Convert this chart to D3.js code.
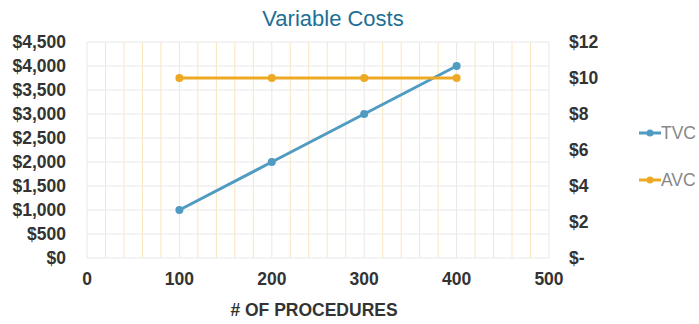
<!DOCTYPE html>
<html><head><meta charset="utf-8">
<script src="https://cdn.jsdelivr.net/npm/d3@7"></script>
<style>body{margin:0;background:#fff}svg{display:block;font-family:"Liberation Sans",Arial,sans-serif}</style>
</head><body>
<svg id="c" width="699" height="324"></svg>
<script>
const procedures = [100, 200, 300, 400];
const tvc = [1000, 2000, 3000, 4000];
const avc = [10, 10, 10, 10];
const xTicks = [0, 100, 200, 300, 400, 500];
const yLeftTicks = [0, 500, 1000, 1500, 2000, 2500, 3000, 3500, 4000, 4500];
const yRightTicks = [0, 2, 4, 6, 8, 10, 12];
const seriesNames = ["TVC", "AVC"];
const colors = ["#4f9bc2", "#eea924"];

const svg = d3.select("#c");
const L = 87, R = 549, T = 42, B = 258;
const FS = 17.5;
const x = d3.scaleLinear().domain([0, 500]).range([L, R]);
const yl = d3.scaleLinear().domain([0, 4500]).range([B, T]);
const yr = d3.scaleLinear().domain([0, 12]).range([B, T]);

// minor vertical grid
const minor = d3.range(0, 501, 20).filter(v => v % 100 !== 0);
svg.append("g").selectAll("line").data(minor).join("line")
  .attr("x1", d => x(d)).attr("x2", d => x(d)).attr("y1", T).attr("y2", B)
  .attr("stroke", "#fbe6bd").attr("stroke-width", 1);
// major horizontal grid
svg.append("g").selectAll("line").data(yLeftTicks).join("line")
  .attr("x1", L).attr("x2", R).attr("y1", d => yl(d)).attr("y2", d => yl(d))
  .attr("stroke", "#e8e8e8").attr("stroke-width", 1);
// major vertical grid
svg.append("g").selectAll("line").data(xTicks).join("line")
  .attr("x1", d => x(d)).attr("x2", d => x(d)).attr("y1", T).attr("y2", B)
  .attr("stroke", "#e8e8e8").attr("stroke-width", 1);

// axes labels
const fmtL = d3.format("$,");
svg.append("g").selectAll("text").data(yLeftTicks).join("text")
  .attr("x", 66).attr("y", d => yl(d)).attr("dy", "0.35em").attr("text-anchor", "end")
  .attr("font-size", FS).attr("font-weight", "bold").attr("fill", "#333")
  .text(d => fmtL(d));
svg.append("g").selectAll("text").data(yRightTicks).join("text")
  .attr("x", 569).attr("y", d => yr(d)).attr("dy", "0.35em").attr("text-anchor", "start")
  .attr("font-size", FS).attr("font-weight", "bold").attr("fill", "#333")
  .text(d => d === 0 ? "$-" : "$" + d);
svg.append("g").selectAll("text").data(xTicks).join("text")
  .attr("x", d => x(d)).attr("y", 279).attr("dy", "0.35em").attr("text-anchor", "middle")
  .attr("font-size", FS).attr("font-weight", "bold").attr("fill", "#333")
  .text(d => d);
svg.append("text").attr("x", 314).attr("y", 310).attr("dy", "0.35em").attr("text-anchor", "middle")
  .attr("font-size", FS).attr("font-weight", "bold").attr("fill", "#333").text("# OF PROCEDURES");
svg.append("text").attr("x", 333).attr("y", 18).attr("dy", "0.35em").attr("text-anchor", "middle")
  .attr("font-size", 22).attr("fill", "#1e6f94").text("Variable Costs");

// series
const data = [
  procedures.map((p, i) => [x(p), yl(tvc[i])]),
  procedures.map((p, i) => [x(p), yr(avc[i])])
];
data.forEach((pts, k) => {
  svg.append("path").attr("d", d3.line()(pts)).attr("fill", "none")
    .attr("stroke", colors[k]).attr("stroke-width", 3);
  svg.append("g").selectAll("circle").data(pts).join("circle")
    .attr("cx", d => d[0]).attr("cy", d => d[1]).attr("r", 4).attr("fill", colors[k]);
});

// legend
const ly = [133, 180];
seriesNames.forEach((n, k) => {
  svg.append("line").attr("x1", 639).attr("x2", 661).attr("y1", ly[k]).attr("y2", ly[k])
    .attr("stroke", colors[k]).attr("stroke-width", 3);
  svg.append("circle").attr("cx", 650).attr("cy", ly[k]).attr("r", 3.5).attr("fill", colors[k]);
  svg.append("text").attr("x", 661).attr("y", ly[k]).attr("dy", "0.35em")
    .attr("font-size", FS).attr("fill", "#888").text(n);
});
</script>
</body></html>
